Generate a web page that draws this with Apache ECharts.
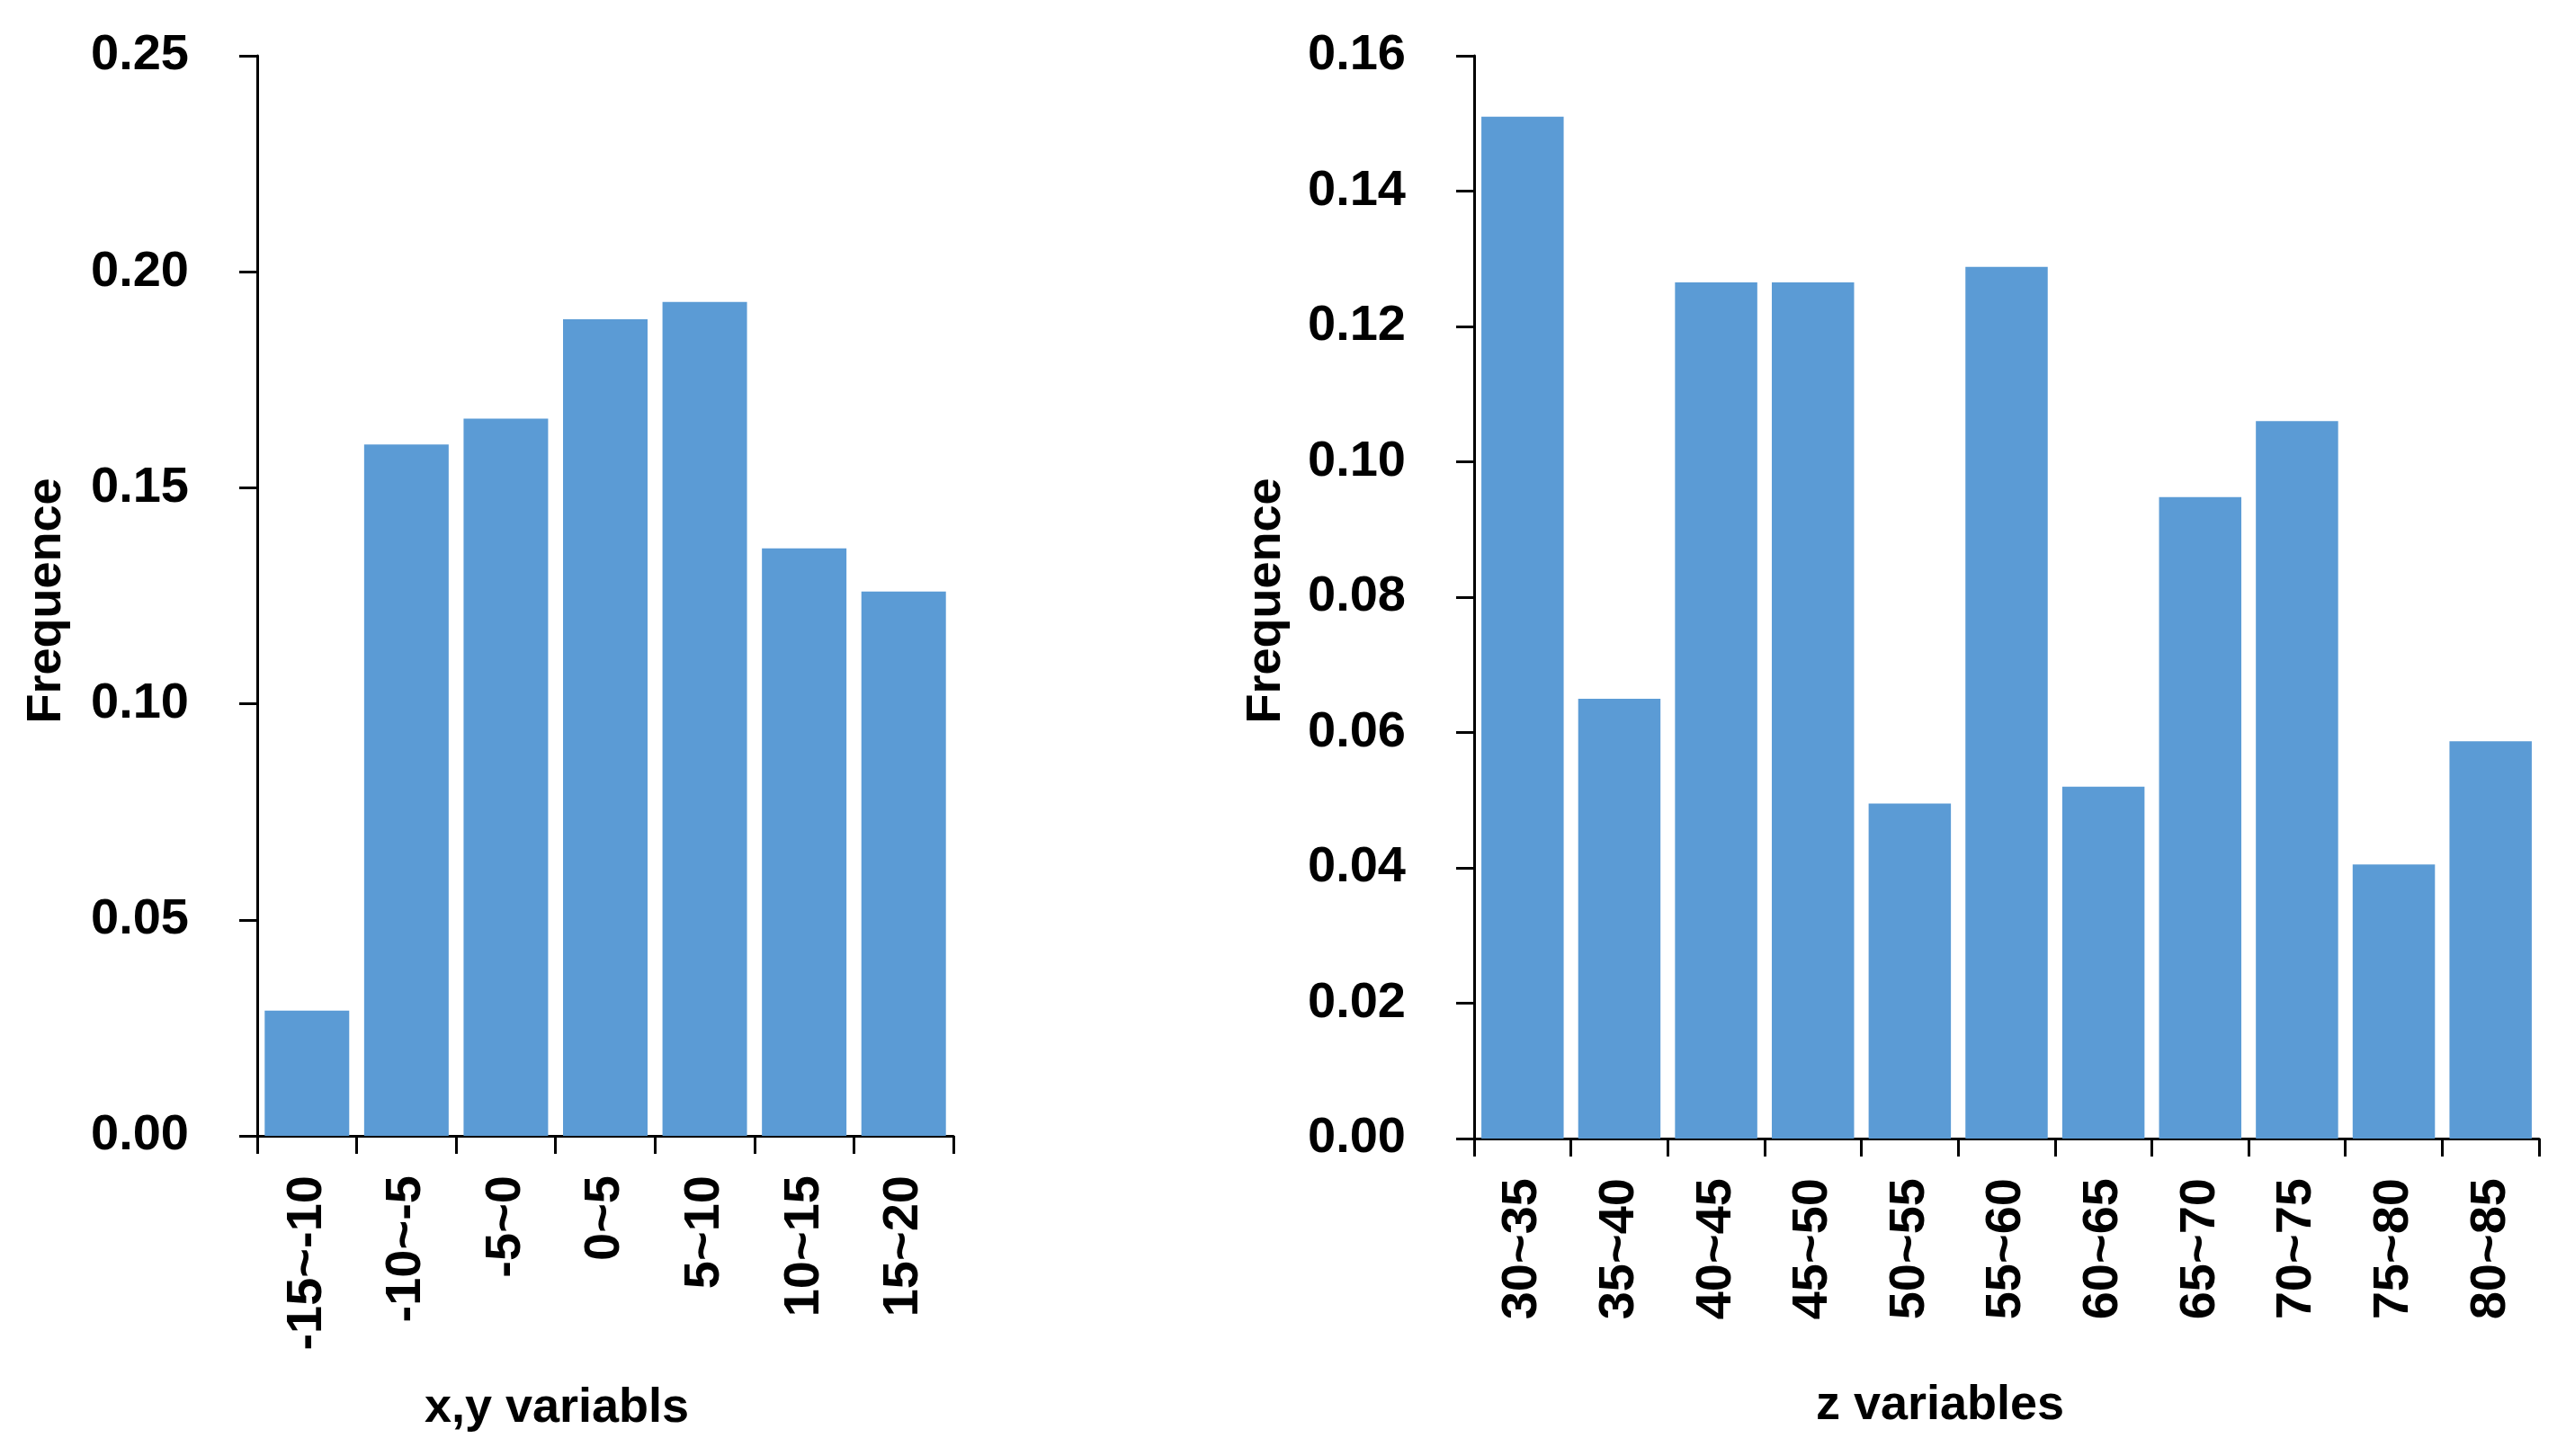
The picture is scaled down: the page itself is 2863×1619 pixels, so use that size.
<!DOCTYPE html>
<html>
<head>
<meta charset="utf-8">
<script src="https://cdn.jsdelivr.net/npm/echarts@6/dist/echarts.min.js"></script>
<style>html,body{margin:0;padding:0;background:#fff}#c{width:2863px;height:1619px}</style>
</head>
<body>
<div id="c"></div>
<script>
const xyCategories = ['-15~-10', '-10~-5', '-5~0', '0~5', '5~10', '10~15', '15~20'];
const xyValues = [0.029, 0.160, 0.166, 0.189, 0.193, 0.136, 0.126];
const zCategories = ['30~35', '35~40', '40~45', '45~50', '50~55', '55~60', '60~65', '65~70', '70~75', '75~80', '80~85'];
const zValues = [0.151, 0.065, 0.1265, 0.1265, 0.0495, 0.1288, 0.052, 0.0948, 0.106, 0.0405, 0.0587];
const leftYTicks = {min: 0, max: 0.25, interval: 0.05};
const rightYTicks = {min: 0, max: 0.16, interval: 0.02};

const FONT = "'Liberation Sans', Arial, sans-serif";
const BAR = '#5B9BD5';
const chart = echarts.init(document.getElementById('c'));

function xAxis(gridIndex, data) {
  return {
    type: 'category', gridIndex, data,
    axisLine: {lineStyle: {color: '#000', width: 3}},
    axisTick: {show: true, length: 20, lineStyle: {color: '#000', width: 3}},
    axisLabel: {rotate: 90, margin: 44, color: '#000', fontWeight: 'bold', fontSize: 56, fontFamily: FONT, interval: 0}
  };
}
function yAxis(gridIndex, t) {
  return {
    type: 'value', gridIndex, min: t.min, max: t.max, interval: t.interval,
    axisLine: {show: true, lineStyle: {color: '#000', width: 3}},
    axisTick: {show: true, length: 20, lineStyle: {color: '#000', width: 3}},
    splitLine: {show: false},
    axisLabel: {margin: 76, color: '#000', fontWeight: 'bold', fontSize: 56, fontFamily: FONT,
      formatter: v => v.toFixed(2)}
  };
}
const nameStyle = {fill: '#000', fontWeight: 'bold', fontSize: 54, fontFamily: FONT, textAlign: 'center', textVerticalAlign: 'middle'};

chart.setOption({
  animation: false,
  grid: [
    {left: 286, right: 1803, top: 62, bottom: 356},
    {left: 1639, right: 40, top: 62, bottom: 353}
  ],
  xAxis: [xAxis(0, xyCategories), xAxis(1, zCategories)],
  yAxis: [yAxis(0, leftYTicks), yAxis(1, rightYTicks)],
  series: [
    {type: 'bar', xAxisIndex: 0, yAxisIndex: 0, data: xyValues, barCategoryGap: '15%', itemStyle: {color: BAR}},
    {type: 'bar', xAxisIndex: 1, yAxisIndex: 1, data: zValues, barCategoryGap: '15%', itemStyle: {color: BAR}}
  ],
  graphic: [
    {type: 'text', x: 619, y: 1566, style: Object.assign({text: 'x,y variabls'}, nameStyle)},
    {type: 'text', x: 2157, y: 1563, style: Object.assign({text: 'z variables'}, nameStyle)},
    {type: 'text', x: 52, y: 668, rotation: Math.PI / 2, style: Object.assign({text: 'Frequence'}, nameStyle)},
    {type: 'text', x: 1408, y: 668, rotation: Math.PI / 2, style: Object.assign({text: 'Frequence'}, nameStyle)}
  ]
});
</script>
</body>
</html>
